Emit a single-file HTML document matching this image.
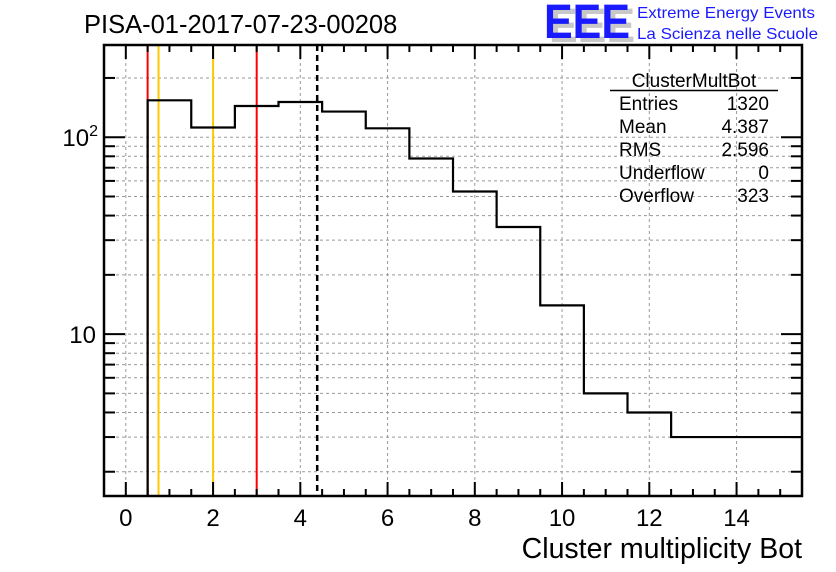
<!DOCTYPE html>
<html><head><meta charset="utf-8"><style>
body{margin:0;background:#fff;width:836px;height:572px;overflow:hidden}
svg{display:block;font-family:"Liberation Sans",Arial,sans-serif}
</style></head><body>
<svg id="c" width="836" height="572" viewBox="0 0 836 572">
<rect width="836" height="572" fill="#fff"/>
<text x="84" y="33" font-size="25.5">PISA-01-2017-07-23-00208</text>
<g>
<text x="549" y="42" font-size="48" font-weight="bold" fill="#c8c8c8" textLength="86" lengthAdjust="spacingAndGlyphs">EEE</text>
<text x="544" y="38" font-size="48" font-weight="bold" fill="#1a1aff" textLength="86" lengthAdjust="spacingAndGlyphs">EEE</text>
<text x="637" y="18" font-size="16" fill="#1a1aff" textLength="178" lengthAdjust="spacingAndGlyphs">Extreme Energy Events</text>
<text x="637" y="39" font-size="16" fill="#1a1aff" textLength="181" lengthAdjust="spacingAndGlyphs">La Scienza nelle Scuole</text>
</g>
<g id="grid"></g>
<g id="marks"></g>
<g id="axes"></g>
<g font-size="19">
<text x="694" y="87" text-anchor="middle">ClusterMultBot</text>
<line x1="610" y1="90.5" x2="778" y2="90.5" stroke="#000" stroke-width="1.5"/>
<text x="619" y="110">Entries</text><text x="769" y="110" text-anchor="end">1320</text>
<text x="619" y="133">Mean</text><text x="769" y="133" text-anchor="end">4.387</text>
<text x="619" y="156">RMS</text><text x="769" y="156" text-anchor="end">2.596</text>
<text x="619" y="179">Underflow</text><text x="769" y="179" text-anchor="end">0</text>
<text x="619" y="202">Overflow</text><text x="769" y="202" text-anchor="end">323</text>
</g>
<text x="802" y="558" font-size="28.5" text-anchor="end">Cluster multiplicity Bot</text>
</svg>
<script>
const binCenters=[1,2,3,4,5,6,7,8,9,10,11,12,13,14,15];
const counts=[154,112,144,151,135,111,78,53,35,14,5,4,3,3,3];
const xTicks=[0,2,4,6,8,10,12,14];
const yTickLabels=[10,100];
const redLines=[0.5,3];
const orangeLines=[0.75,2];
const meanValue=4.387;
const X0=-0.5,X1=15.5,PL=104,PR=802,PT=45,PB=496;
const YMIN=1.506,YMAX=294;
function sx(v){return PL+(v-X0)/(X1-X0)*(PR-PL);}
function sy(v){return PB-(Math.log10(v)-Math.log10(YMIN))/(Math.log10(YMAX)-Math.log10(YMIN))*(PB-PT);}
const NS="http://www.w3.org/2000/svg";
function mk(p,t,a){const e=document.createElementNS(NS,t);for(const k in a)e.setAttribute(k,a[k]);p.appendChild(e);return e;}
const grid=document.getElementById('grid'),marks=document.getElementById('marks'),axes=document.getElementById('axes');
xTicks.forEach(v=>{const l=mk(grid,'line',{x1:sx(v),x2:sx(v),y1:PT,y2:PB,stroke:'#999','stroke-dasharray':'3,3'});

});
for(let d=1;d<=100;d*=10)for(let m=1;m<10;m++){const v=d*m;if(v<YMIN||v>YMAX)continue;
const l=mk(grid,'line',{x1:PL,x2:PR,y1:sy(v),y2:sy(v),stroke:'#999','stroke-dasharray':'3,3'});


const major=(m===1);const len=major?21:11;
mk(axes,'line',{x1:PL,x2:PL+len,y1:sy(v),y2:sy(v),stroke:'#000','stroke-width':2});
mk(axes,'line',{x1:PR,x2:PR-len,y1:sy(v),y2:sy(v),stroke:'#000','stroke-width':2});}
redLines.forEach(v=>{const l=mk(marks,'line',{x1:sx(v),x2:sx(v),y1:PT,y2:PB,stroke:'#f00','stroke-width':2});

});
orangeLines.forEach(v=>{const l=mk(marks,'line',{x1:sx(v),x2:sx(v),y1:PT,y2:PB,stroke:'#ffc800','stroke-width':2});

});
const ml=mk(marks,'line',{x1:sx(meanValue),x2:sx(meanValue),y1:PT,y2:PB,stroke:'#000','stroke-width':2.5,'stroke-dasharray':'6,4'});


let d='M'+sx(binCenters[0]-0.5)+','+PB;
binCenters.forEach((c,i)=>{const y=sy(Math.max(counts[i],YMIN));d+=' L'+sx(c-0.5)+','+y+' L'+Math.min(sx(c+0.5),PR)+','+y;});
const h=mk(marks,'path',{d:d,fill:'none',stroke:'#000','stroke-width':2.2});


for(let v=-0.5;v<=15.5;v+=0.5){const major=Math.abs(v-Math.round(v/2)*2)<1e-6;const len=major?14:7;
mk(axes,'line',{x1:sx(v),x2:sx(v),y1:PB,y2:PB-len,stroke:'#000','stroke-width':2});
mk(axes,'line',{x1:sx(v),x2:sx(v),y1:PT,y2:PT+len,stroke:'#000','stroke-width':2});}
const fr=mk(axes,'rect',{x:PL,y:PT,width:PR-PL,height:PB-PT,fill:'none',stroke:'#000','stroke-width':2.5});


xTicks.forEach(v=>{const t=mk(axes,'text',{x:sx(v),y:PB+30,'font-size':24,'text-anchor':'middle'});t.textContent=v;

});
yTickLabels.forEach(v=>{const t=mk(axes,'text',{x:96,y:sy(v)+9,'font-size':24,'text-anchor':'end'});
if(v===10){t.textContent='10';}else{t.textContent='10';const s=mk(t,'tspan',{dy:-10,'font-size':16});s.textContent=String(Math.round(Math.log10(v)));t.setAttribute('x',98);}

});
</script>
</body></html>
